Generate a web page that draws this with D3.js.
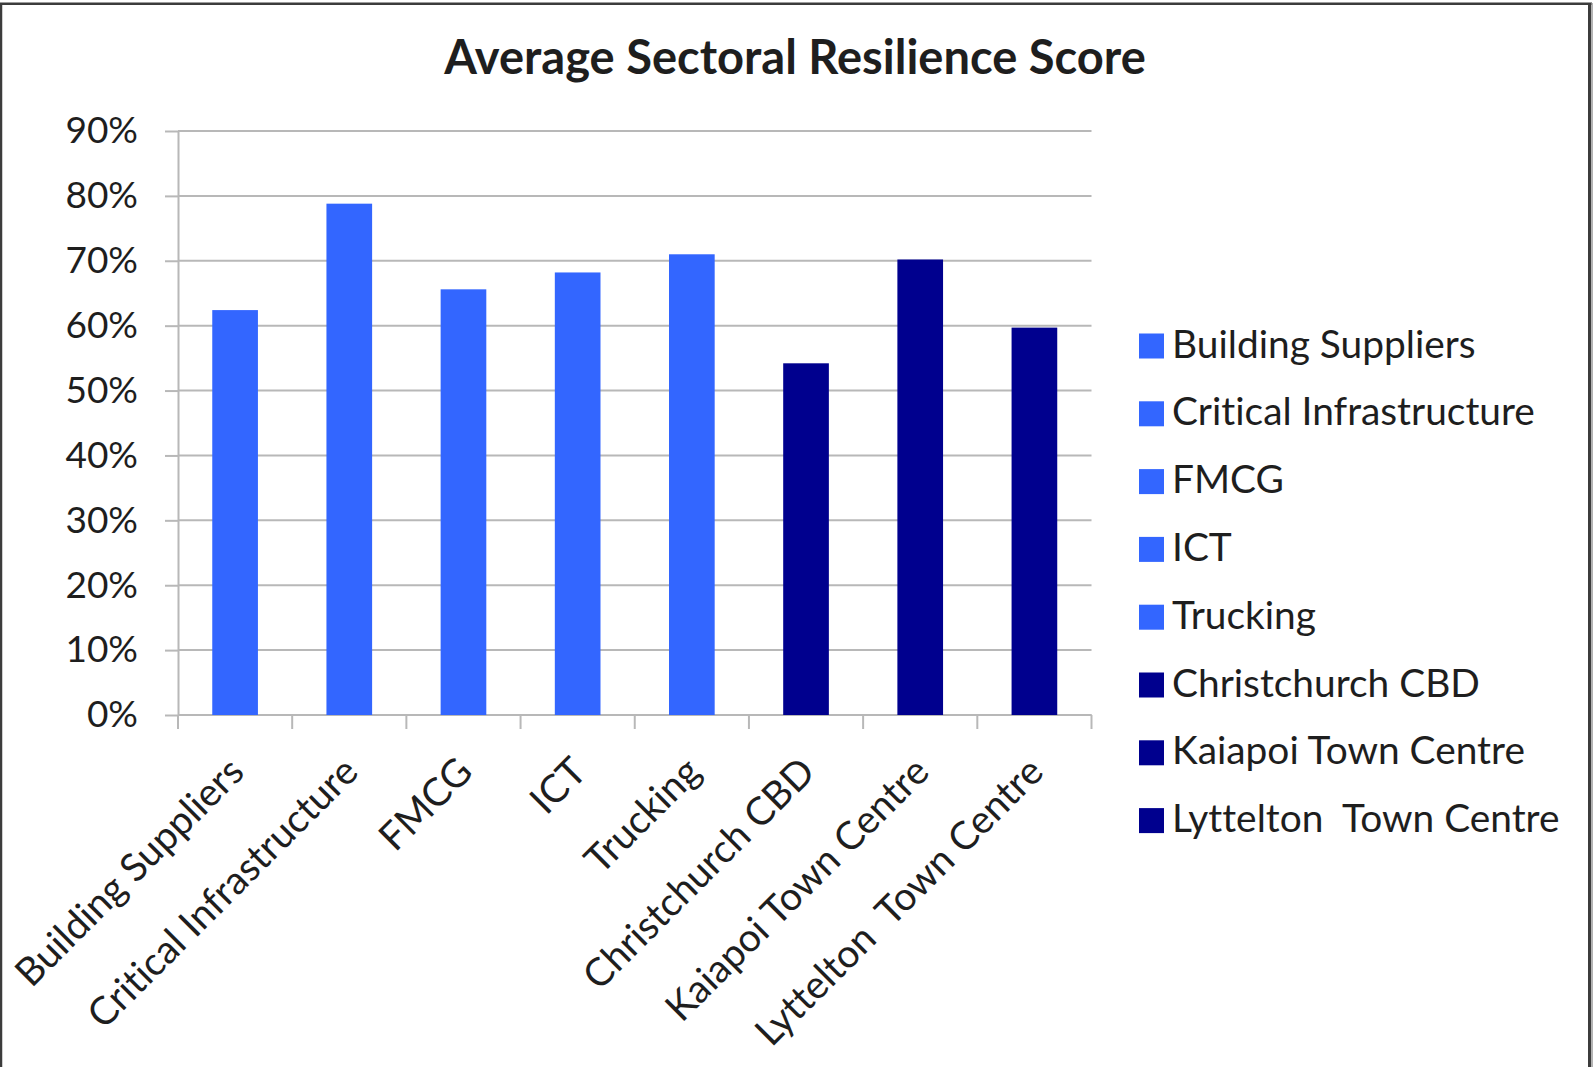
<!DOCTYPE html>
<html>
<head>
<meta charset="utf-8">
<script src="https://cdn.jsdelivr.net/npm/d3@7"></script>
<style>
  html, body { margin: 0; padding: 0; background: #fff; }
  svg { display: block; }
  text { font-family: Lato, "Open Sans", sans-serif; fill: #1e1e1e;
         font-variant-ligatures: none; font-feature-settings: "liga" 0, "clig" 0; }
</style>
</head>
<body>
<svg id="chart" width="1595" height="1067"></svg>
<script>
// ---- data ----
const title = "Average Sectoral Resilience Score";
const categories = ["Building Suppliers", "Critical Infrastructure", "FMCG", "ICT", "Trucking",
                    "Christchurch CBD", "Kaiapoi Town Centre", "Lyttelton  Town Centre"];
const values = [62.4, 78.8, 65.6, 68.2, 71.0, 54.2, 70.2, 59.7];
const groups = ["sector", "sector", "sector", "sector", "sector", "centre", "centre", "centre"];
const yTicks = [0, 10, 20, 30, 40, 50, 60, 70, 80, 90];

// ---- style / layout ----
const colors = { sector: "#3366ff", centre: "#00008e" };
const gridColor = "#b8b8b8";
const svg = d3.select("#chart");

// frame
svg.append("line").attr("x1", 1).attr("x2", 1).attr("y1", 3).attr("y2", 1067)
  .attr("stroke", "#3c3c3c").attr("stroke-width", 2.5);
svg.append("line").attr("x1", 0).attr("x2", 1592).attr("y1", 3.7).attr("y2", 3.7)
  .attr("stroke", "#3c3c3c").attr("stroke-width", 2.5);
svg.append("line").attr("x1", 1589.5).attr("x2", 1589.5).attr("y1", 3).attr("y2", 1067)
  .attr("stroke", "#3c3c3c").attr("stroke-width", 3);
svg.append("line").attr("x1", 1592).attr("x2", 1592).attr("y1", 3).attr("y2", 1067)
  .attr("stroke", "#9a9a9a").attr("stroke-width", 1.5);

const x = d3.scaleBand().domain(categories).range([178, 1091.5])
  .paddingInner(0.6).paddingOuter(0.3);
const y = d3.scaleLinear().domain([0, 90]).range([715, 131]);

function fitSize(sel, target, base) {
  const w = sel.node().getComputedTextLength();
  return base * target / w;
}

// title
const t = svg.append("text").attr("x", 795).attr("y", 74)
  .attr("text-anchor", "middle").attr("font-weight", 700)
  .attr("font-size", 44).text(title);
t.attr("font-size", fitSize(t, 702, 44));

// gridlines
svg.append("g").selectAll("line").data(yTicks).join("line")
  .attr("x1", 178).attr("x2", 1091.5)
  .attr("y1", d => y(d)).attr("y2", d => y(d))
  .attr("stroke", gridColor).attr("stroke-width", 2);

// y axis
const yAxis = svg.append("g").attr("transform", "translate(178,0)")
  .call(d3.axisLeft(y).tickValues(yTicks).tickFormat(d => d + "%")
        .tickSize(13).tickSizeOuter(0).tickPadding(27));
yAxis.select(".domain").attr("stroke", gridColor).attr("stroke-width", 2);
yAxis.selectAll(".tick line").attr("stroke", gridColor).attr("stroke-width", 2);
yAxis.selectAll(".tick text").attr("font-family", "Lato, sans-serif")
  .attr("font-size", 37).attr("fill", "#2a2a2a");

// x axis ticks at band boundaries
const bounds = d3.range(categories.length + 1).map(i => x.range()[0] + i * x.step());
svg.append("g").selectAll("line").data(bounds).join("line")
  .attr("x1", d => d).attr("x2", d => d).attr("y1", 715).attr("y2", 729)
  .attr("stroke", gridColor).attr("stroke-width", 2);
svg.append("line").attr("x1", 178).attr("x2", 1091.5).attr("y1", 715).attr("y2", 715)
  .attr("stroke", gridColor).attr("stroke-width", 2);

// bars
svg.append("g").selectAll("rect").data(categories).join("rect")
  .attr("x", d => x(d)).attr("width", x.bandwidth())
  .attr("y", (d, i) => y(values[i]))
  .attr("height", (d, i) => y(0) - y(values[i]))
  .attr("fill", (d, i) => colors[groups[i]]);

// legend font size
const probe = svg.append("text").attr("font-size", 32).style("white-space", "pre")
  .text("Critical Infrastructure");
const labelSize = fitSize(probe, 363, 32);
probe.remove();

// x labels
svg.append("g").selectAll("text").data(categories).join("text")
  .attr("transform", d => `translate(${x(d) + x.bandwidth() / 2 + 11},774) rotate(-45)`)
  .attr("text-anchor", "end").attr("font-size", labelSize)
  .style("white-space", "pre").text(d => d);

// legend
const lg = svg.append("g").selectAll("g").data(categories).join("g")
  .attr("transform", (d, i) => `translate(1139,${346 + i * 67.8})`);
lg.append("rect").attr("x", 0).attr("y", -12.5).attr("width", 25).attr("height", 25)
  .attr("fill", (d, i) => colors[groups[i]]);
lg.append("text").attr("x", 33).attr("y", -2).attr("dy", "0.35em")
  .attr("font-size", labelSize).style("white-space", "pre").text(d => d);
</script>
</body>
</html>
